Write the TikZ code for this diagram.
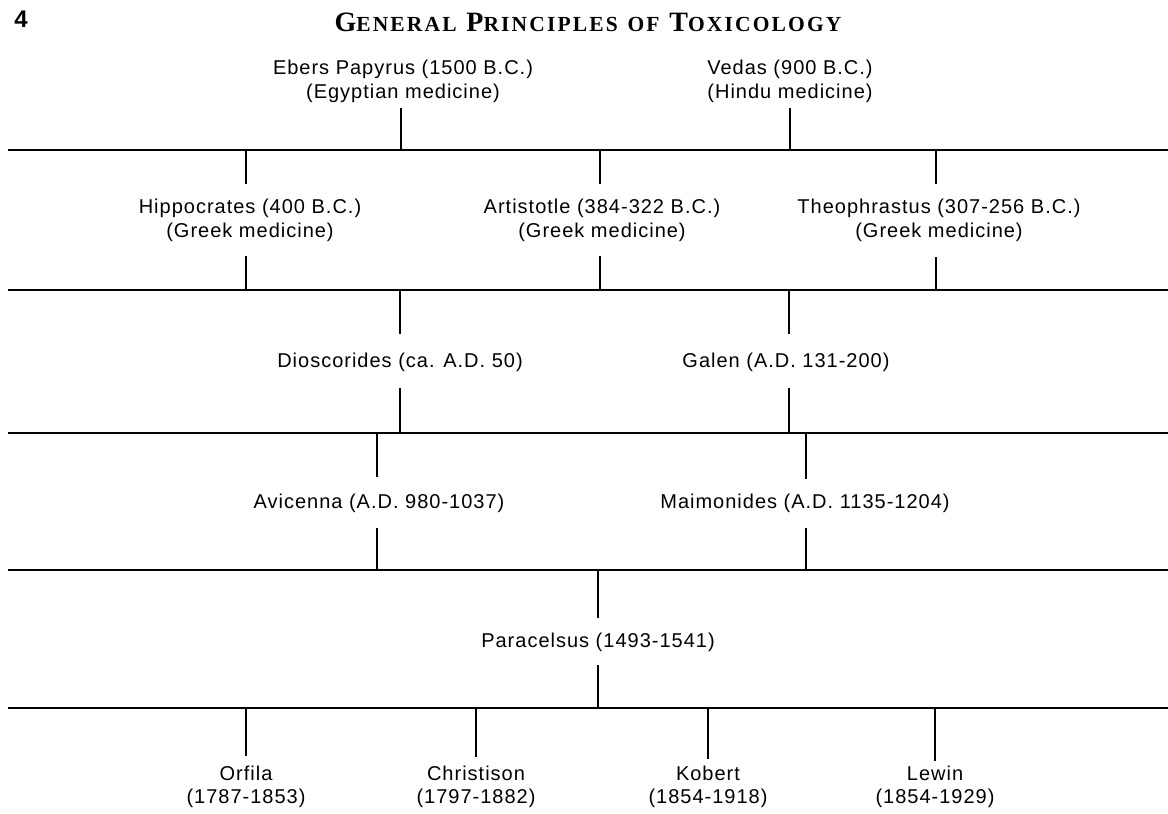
\documentclass[tikz,border=0pt]{standalone}
\usepackage{fontspec}
\setmainfont{Liberation Sans}[LetterSpace=5]
\newfontfamily\titlefont{Liberation Serif}[LetterSpace=10]
\newcommand{\bigc}[1]{{\fontsize{28}{28}\selectfont #1}}
\newcommand{\smc}[1]{{\fontsize{21.5}{28}\selectfont #1}}
\begin{document}
\begin{tikzpicture}[x=1pt,y=-1pt,
  lbl/.style={align=center,inner sep=0pt,font=\fontsize{20}{23.5}\selectfont},
  rule/.style={line width=2.6pt},
  tick/.style={line width=2.4pt}]
\useasboundingbox (0,0) rectangle (1168,814);
% header
\node[inner sep=0pt,font=\fontsize{24}{24}\selectfont\bfseries] (pg) at (21,19) {4};
\node[inner sep=0pt,font=\titlefont\bfseries\fontsize{28}{28}\selectfont] (title) at (588,22)
  {\bigc{G}\smc{ENERAL} \bigc{P}\smc{RINCIPLES} \smc{OF} \bigc{T}\smc{OXICOLOGY}};
% horizontal rules
\foreach \n/\y in {r1/150,r2/290,r3/433,r4/570,r5/708}{
  \coordinate (\n L) at (8,\y);
  \coordinate (\n R) at (1168,\y);
}
\foreach \n in {r1,r2,r3,r4,r5}{\draw[rule] (\n L) -- (\n R);}
% labels
\node[lbl] (ebers) at (403,81.5) {Ebers Papyrus (1500 B.C.)\\(Egyptian medicine)};
\node[lbl] (vedas) at (790,81.5) {Vedas (900 B.C.)\\(Hindu medicine)};
\node[lbl] (hipp) at (250,220.5) {Hippocrates (400 B.C.)\\(Greek medicine)};
\node[lbl] (arist) at (602,220.5) {Artistotle (384-322 B.C.)\\(Greek medicine)};
\node[lbl] (theo) at (939,220.5) {Theophrastus (307-256 B.C.)\\(Greek medicine)};
\node[lbl] (dios) at (400,362) {Dioscorides (ca. A.D. 50)};
\node[lbl] (galen) at (786,362) {Galen (A.D. 131-200)};
\node[lbl] (avic) at (379,503) {Avicenna (A.D. 980-1037)};
\node[lbl] (maim) at (805,503) {Maimonides (A.D. 1135-1204)};
\node[lbl] (para) at (598,642) {Paracelsus (1493-1541)};
\node[lbl] (orfila) at (246,787) {Orfila\\(1787-1853)};
\node[lbl] (christ) at (476,787) {Christison\\(1797-1882)};
\node[lbl] (kobert) at (708,787) {Kobert\\(1854-1918)};
\node[lbl] (lewin) at (935,787) {Lewin\\(1854-1929)};
% tick end points
\coordinate (eA) at (401,108); \coordinate (eB) at (401,150);
\coordinate (vA) at (790,108); \coordinate (vB) at (790,150);
\coordinate (hA) at (246,150); \coordinate (hB) at (246,184);
\coordinate (hC) at (246,256); \coordinate (hD) at (246,290);
\coordinate (aA) at (600,150); \coordinate (aB) at (600,184);
\coordinate (aC) at (600,256); \coordinate (aD) at (600,290);
\coordinate (tA) at (936,150); \coordinate (tB) at (936,184);
\coordinate (tC) at (936,257); \coordinate (tD) at (936,290);
\coordinate (dA) at (400,290); \coordinate (dB) at (400,334);
\coordinate (dC) at (400,388); \coordinate (dD) at (400,433);
\coordinate (gA) at (789,290); \coordinate (gB) at (789,334);
\coordinate (gC) at (789,388); \coordinate (gD) at (789,433);
\coordinate (avA) at (377,433); \coordinate (avB) at (377,477);
\coordinate (avC) at (377,528); \coordinate (avD) at (377,570);
\coordinate (mA) at (806,433); \coordinate (mB) at (806,479);
\coordinate (mC) at (806,528); \coordinate (mD) at (806,570);
\coordinate (pA) at (598,570); \coordinate (pB) at (598,618);
\coordinate (pC) at (598,665); \coordinate (pD) at (598,708);
\coordinate (oA) at (246,708); \coordinate (oB) at (246,756);
\coordinate (cA) at (476,708); \coordinate (cB) at (476,757);
\coordinate (kA) at (708,708); \coordinate (kB) at (708,759);
\coordinate (lA) at (935,708); \coordinate (lB) at (935,761);
\foreach \a/\b in {eA/eB,vA/vB,hA/hB,hC/hD,aA/aB,aC/aD,tA/tB,tC/tD,dA/dB,dC/dD,gA/gB,gC/gD,avA/avB,avC/avD,mA/mB,mC/mD,pA/pB,pC/pD,oA/oB,cA/cB,kA/kB,lA/lB}
  {\draw[tick] (\a) -- (\b);}
\end{tikzpicture}
\end{document}
